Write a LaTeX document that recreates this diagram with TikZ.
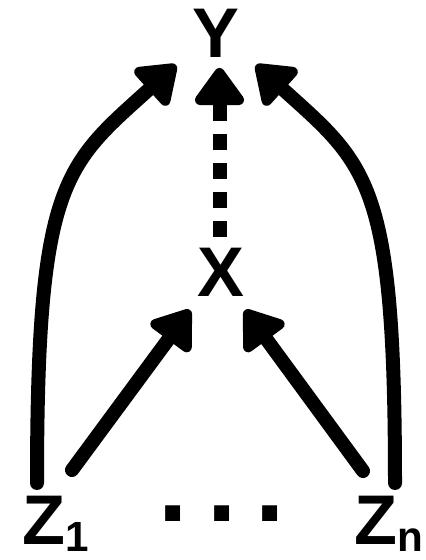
\documentclass[tikz,border=0pt]{standalone}
\usepackage{fontspec}
\setmainfont{Liberation Sans}
\usetikzlibrary{arrows.meta}

\begin{document}
\begin{tikzpicture}[
    every node/.style={inner sep=0pt,anchor=base,font=\bfseries\fontsize{40}{48}\selectfont},
    link/.style={line width=0.28cm,line cap=round,-{Triangle[length=0.82cm,width=1.12cm,round]}}]
  \useasboundingbox (0,0) rectangle (8.52,11.2);
  % The outcome at the top, the treatment in the middle.
  \node (y) at (4.32,10.04) {Y};
  \node (x) at (4.42,5.26) {X};
  % The instruments along the bottom.
  \node (z1) at (1.12,0.3) {Z\raisebox{-0.12cm}{\bfseries\fontsize{24}{28}\selectfont 1}};
  \node (zn) at (7.78,0.3) {Z\raisebox{-0.12cm}{\bfseries\fontsize{24}{28}\selectfont n}};
  \node (dots) at (4.435,0.78) {\fontsize{60}{60}\selectfont .\hspace{0.38cm}.\hspace{0.38cm}.};
  % Where the arrows start and stop.
  \coordinate (z1up) at (0.74,1.54);
  \coordinate (znup) at (7.90,1.54);
  \coordinate (z1in) at (1.44,1.80);
  \coordinate (znin) at (7.26,1.78);
  \coordinate (yl) at (3.52,9.90);
  \coordinate (yr) at (5.12,9.90);
  \coordinate (xl) at (3.80,5.00);
  \coordinate (xr) at (4.90,5.00);
  \coordinate (xtop) at (4.39,6.46);
  \coordinate (ybot) at (4.39,9.84);
  % Direct paths from each Z to Y.
  \draw[link] (z1up) .. controls (0.74,7.6) and (1.29,7.89) .. (yl);
  \draw[link] (znup) .. controls (7.90,7.6) and (7.35,7.89) .. (yr);
  % Paths through X.
  \draw[link] (z1in) -- (xl);
  \draw[link] (znin) -- (xr);
  \draw[link,line cap=butt,dash pattern=on 0.32cm off 0.26cm] (xtop) -- (ybot);
\end{tikzpicture}
\end{document}
